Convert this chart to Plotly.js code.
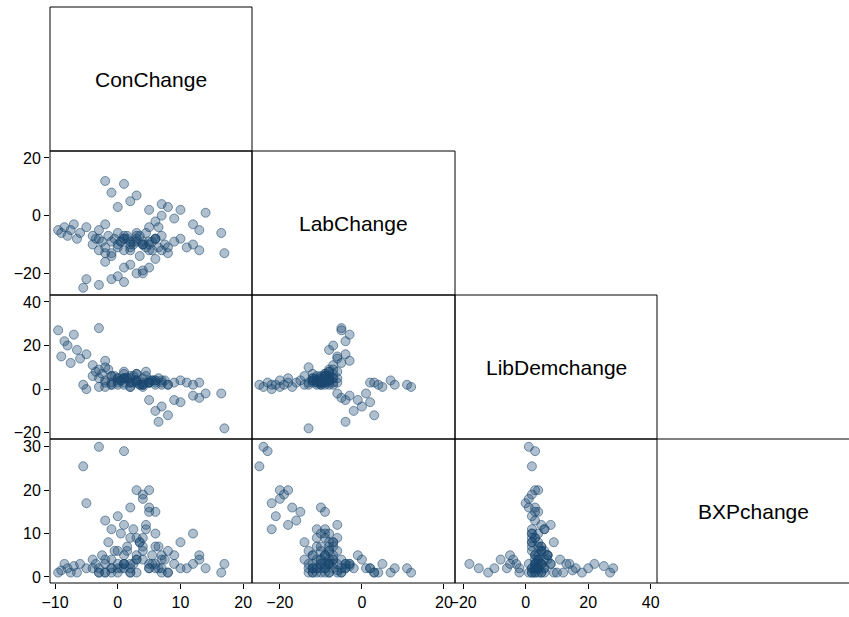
<!DOCTYPE html>
<html>
<head>
<meta charset="utf-8">
<script src="https://cdn.plot.ly/plotly-3.0.1.min.js"></script>
<style>body{margin:0;background:#fff}#plot{width:849px;height:617px}</style>
</head>
<body>
<div id="plot"></div>
<script>
"use strict";
var varNames = ["ConChange", "LabChange", "LibDemchange", "BXPchange"];

// one entry per constituency, same order in every array
var conChange = [
  -9.5,-9,-8.5,-8,-7.5,-7,-6.5,-6,-5,-4,-3,-2,
  -5.5,-3,1,-5,3,4,5,2,0,-2,6,4,1,-1,
  5,6,7,8,9,10,12,13,14,16.5,17,6.5,
  -2,-1,0,1,2,3,5,7,
  -4,-3.5,-3,-2.5,-2,-1.5,-1,-0.5,0,0.5, 1,1.5,2,2.5,3,3.5,4,4.5,5,5.5,
  6,6.5,7,7.5,8,9,10,11,12,13, -1,0,1,2,3,4,5,6,-2,0,
  2,4,6,8,1,3,5,7,-3,-1, 0.5,1.5,2.5,3.5,4.5,5.5,2,3,4,1
];
var labChange = [
  -5,-6,-4,-7,-5,-3,-8,-6,-4,-7,-5,-3,
  -25,-24,-23,-22,-20,-19,-18,-17,-21,-16,-15,-20,-18,-22,
  -4,-2,0,3,-1,2,-3,-5,1,-6,-13,-4,
  12,8,3,11,5,7,2,4,
  -10,-8,-12,-9,-11,-7,-13,-8,-10,-9, -12,-7,-11,-9,-8,-14,-10,-6,-9,-12,
  -8,-11,-7,-10,-13,-9,-8,-11,-10,-12, -9,-11,-8,-10,-7,-9,-12,-8,-13,-6,
  -9,-10,-8,-11,-7,-9,-10,-12,-8,-14, -9,-8,-10,-7,-11,-9,-12,-6,-10,-8
];
var libDemChange = [
  27,15,22,20,12,25,18,14,16,11,28,13,
  2,1,3,0,4,2,3,1,2,3,4,1,5,2,
  -5,-10,-8,-12,-5,-6,-3,-4,-2,-2,-18,-15,
  1,2,3,2,1,4,3,2,
  6,8,5,7,4,9,3,6,5,4, 7,5,3,6,4,2,5,8,3,4,
  2,5,3,4,2,3,4,3,2,3, 6,4,5,3,7,2,4,3,10,5,
  6,3,4,2,5,7,3,4,9,6, 4,5,3,2,6,4,5,3,2,8
];
var bxpChange = [
  1,1.5,3,2,1,2.5,1,3,2,4,2,3,
  25.5,30,29,17,20,19,20,16,14,13,15,18,12,11,
  3,2,4,1,5,2,3,4,2,1,3,2,
  1,2,1,2,3,1,2,1,
  2,3,1,5,4,8,2,6,3,10, 5,7,9,11,4,8,6,12,15,3,
  10,7,5,4,6,3,8,2,10,5, 1,2,3,1,4,9,2,3,1,6,
  2,4,7,1,3,5,16,2,1,4, 2,6,3,8,11,5,1,9,7,3
];
var series = [conChange, labChange, libDemChange, bxpChange];

var W = 849, H = 617;
var colPx = [50, 252, 455, 657, 849];
var rowPx = [7, 151, 295, 439, 583];
var xRanges = [[-10.8, 21.4], [-26.8, 22.7], [-22.6, 42]];
var yRanges = [null, [-27.5, 22.4], [-22.9, 43.2], [-1.4, 31.8]];
var xTicks = [[-10, 0, 10, 20], [-20, 0, 20], [-20, 0, 20, 40]];
var yTicks = [null, [-20, 0, 20], [-20, 0, 20, 40], [0, 10, 20, 30]];

function px(x) { return x / W; }
function py(y) { return 1 - y / H; }

var data = [], layout = {
  width: W, height: H, showlegend: false,
  margin: {l: 0, r: 0, t: 0, b: 0},
  paper_bgcolor: "#fff", plot_bgcolor: "rgba(0,0,0,0)",
  font: {family: "Liberation Sans, Arial, sans-serif", size: 16, color: "#000"},
  shapes: [], annotations: []
};

var n = 0;
for (var r = 1; r < 4; r++) {
  for (var c = 0; c < r; c++) {
    n++;
    var sfx = n === 1 ? "" : String(n);
    data.push({
      x: series[c], y: series[r], type: "scatter", mode: "markers",
      xaxis: "x" + sfx, yaxis: "y" + sfx, hoverinfo: "skip",
      marker: {size: 9, color: "rgba(26,71,111,0.35)", line: {color: "rgba(26,71,111,0.55)", width: 1}}
    });
    var bottom = r === 3, left = c === 0;
    layout["xaxis" + sfx] = {
      domain: [px(colPx[c]), px(colPx[c + 1])], range: xRanges[c],
      anchor: "y" + sfx, showgrid: false, zeroline: false, showline: false,
      tickvals: xTicks[c], showticklabels: bottom, ticks: bottom ? "outside" : "",
      ticklen: 5, tickcolor: "#000"
    };
    layout["yaxis" + sfx] = {
      domain: [py(rowPx[r + 1]), py(rowPx[r])], range: yRanges[r],
      anchor: "x" + sfx, showgrid: false, zeroline: false, showline: false,
      tickvals: yTicks[r], showticklabels: left, ticks: left ? "outside" : "",
      ticklen: 5, tickcolor: "#000"
    };
  }
}

// cell frames and diagonal labels
for (var i = 0; i < 4; i++) {
  for (var j = 0; j <= i; j++) {
    if (i === 3 && j === 3) {
      [rowPx[3], rowPx[4]].forEach(function (yy) {
        layout.shapes.push({type: "line", xref: "paper", yref: "paper",
          x0: px(colPx[3]), x1: 1, y0: py(yy), y1: py(yy), line: {color: "#000", width: 1}});
      });
      continue;
    }
    layout.shapes.push({type: "rect", xref: "paper", yref: "paper",
      x0: px(colPx[j]), x1: px(colPx[j + 1]), y0: py(rowPx[i + 1]), y1: py(rowPx[i]),
      line: {color: "#000", width: 1}});
  }
  layout.annotations.push({
    text: varNames[i], showarrow: false, xref: "paper", yref: "paper",
    xanchor: "center", yanchor: "middle",
    x: px((colPx[i] + colPx[i + 1]) / 2), y: py((rowPx[i] + rowPx[i + 1]) / 2),
    font: {size: 21, color: "#000"}
  });
}

Plotly.newPlot("plot", data, layout, {displayModeBar: false, staticPlot: true});
</script>
</body>
</html>
